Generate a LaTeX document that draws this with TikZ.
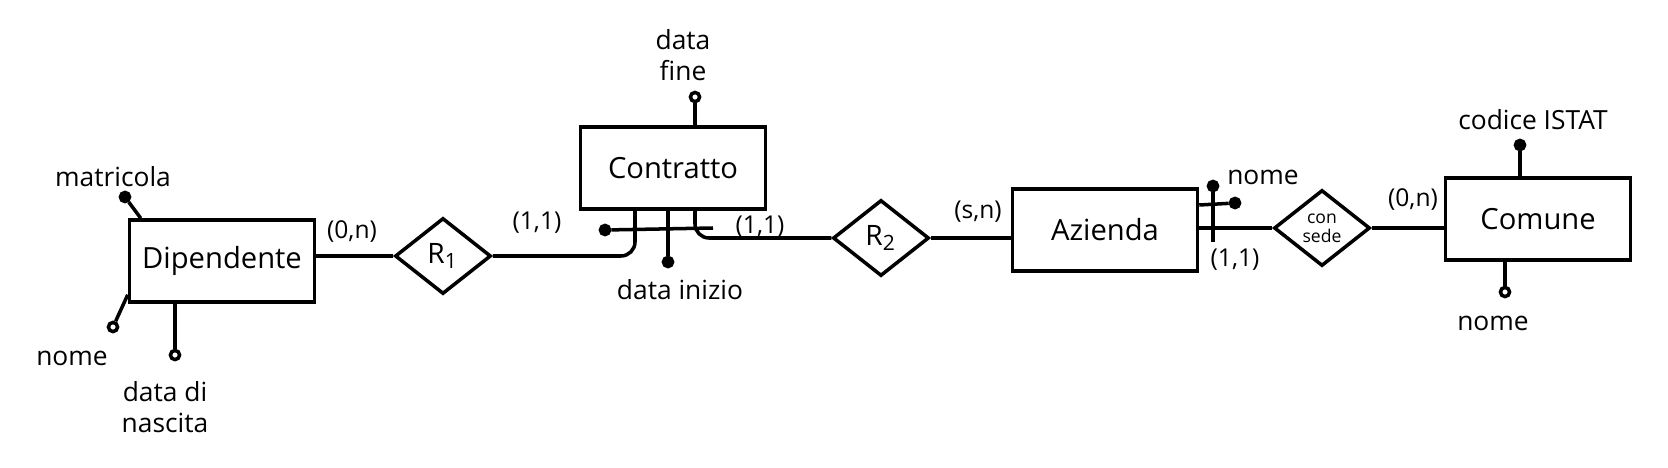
\documentclass[tikz,border=0pt]{standalone}
\usepackage{fontspec}
\setmainfont{Open Sans}
\usetikzlibrary{shapes.geometric}

\begin{document}
\begin{tikzpicture}[
  line width=1pt,
  entita/.style={draw, rectangle, minimum width=1.85cm, minimum height=0.82cm, font=\fontsize{8.3}{10}\selectfont},
  relazione/.style={draw, diamond, minimum width=0.96cm, minimum height=0.76cm, inner sep=0pt, font=\fontsize{8}{9}\selectfont},
  chiave/.style={circle, draw, fill, inner sep=0pt, minimum size=2.6pt},
  attributo/.style={circle, draw, fill=white, inner sep=0pt, minimum size=2.6pt},
  testo/.style={font=\fontsize{7.5}{9}\selectfont, align=center},
  card/.style={font=\fontsize{7}{8}\selectfont},
]
\useasboundingbox (0,0) rectangle (16.68,4.67);

% Entità
\node[entita] (dip) at (2.22,2.06) {Dipendente};
\node[entita] (contr) at (6.73,2.99) {Contratto};
\node[entita] (az) at (11.05,2.37) {Azienda};
\node[entita] (com) at (15.38,2.48) {Comune};

% Relazioni
\node[relazione] (r1) at (4.43,2.11) {R\textsubscript{1}};
\node[relazione] (r2) at (8.81,2.29) {R\textsubscript{2}};
\node[relazione, font=\fontsize{5}{5.5}\selectfont, align=center] (sede) at (13.22,2.39) {con\\sede};

% Collegamenti
\draw (dip.east |- r1.west) -- (r1.west);
\draw[rounded corners=4pt] (r1.east) -| ([xshift=-0.38cm]contr.south);
\draw[rounded corners=4pt] ([xshift=0.22cm]contr.south) |- (r2.west);
\draw (r2.east) -- (r2.east -| az.west);
\draw (az.east |- sede.west) -- (sede.west);
\draw (sede.east) -- (sede.east -| com.west);

% Attributi di Dipendente
\node[chiave] (matr) at (1.25,2.70) {};
\draw (matr) -- ([xshift=0.13cm]dip.north west);
\node[testo] (tMatr) at (1.13,2.90) {matricola};
\node[attributo] (nomeD) at (1.13,1.40) {};
\draw (nomeD) -- ([yshift=0.09cm]dip.south west);
\node[testo] (tNomeD) at (0.72,1.09) {nome};
\node[attributo] (nasc) at (1.75,1.12) {};
\draw (nasc) -- (nasc |- dip.south);
\node[testo] (tNasc) at (1.65,0.60) {data di\\nascita};

% Attributi di Contratto
\node[attributo] (dfine) at (6.95,3.70) {};
\draw (dfine) -- (dfine |- contr.north);
\node[testo] (tFine) at (6.83,4.12) {data\\fine};
\node[chiave] (diniz) at (6.68,2.05) {};
\draw (diniz) -- (diniz |- contr.south);
\node[testo] (tIniz) at (6.80,1.77) {data inizio};

% Identificatore di Contratto
\node[chiave] (idC) at (6.05,2.37) {};
\coordinate (idCfine) at (7.13,2.39);
\draw (idC) -- (idCfine);

% Attributi di Azienda
\node[chiave] (nomeA) at (12.35,2.64) {};
\draw ([yshift=0.25cm]az.east) -- (nomeA);
\node[testo] (tNomeA) at (12.63,2.90) {nome};
\node[chiave] (idA) at (12.13,2.81) {};
\coordinate (idAfine) at (12.13,2.25);
\draw (idA) -- (idAfine);

% Attributi di Comune
\node[chiave] (istat) at (15.20,3.22) {};
\draw (istat) -- (istat |- com.north);
\node[testo] (tIstat) at (15.33,3.47) {codice ISTAT};
\node[attributo] (nomeC) at (15.05,1.75) {};
\draw (nomeC) -- (nomeC |- com.south);
\node[testo] (tNomeC) at (14.93,1.44) {nome};

% Cardinalità
\node[card] (c1) at (3.52,2.35) {(0,n)};
\node[card] (c2) at (5.37,2.44) {(1,1)};
\node[card] (c3) at (7.60,2.40) {(1,1)};
\node[card] (c4) at (9.78,2.55) {(s,n)};
\node[card] (c5) at (12.35,2.07) {(1,1)};
\node[card] (c6) at (14.13,2.67) {(0,n)};

\end{tikzpicture}
\end{document}
